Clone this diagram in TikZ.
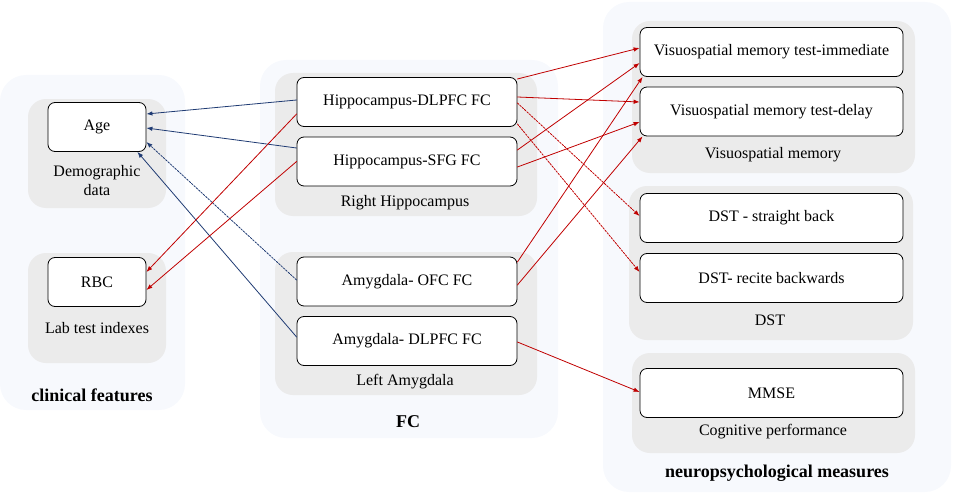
\documentclass[tikz,border=0pt]{standalone}
\usepackage{fontspec}
\setmainfont{Liberation Serif}
\usetikzlibrary{arrows.meta}

\definecolor{outerfill}{HTML}{F7F9FD}
\definecolor{groupfill}{HTML}{EBEBEB}
\definecolor{linkred}{HTML}{C00000}
\definecolor{linkblue}{HTML}{1F3B73}

\begin{document}
\begin{tikzpicture}[x=1pt, y=-1pt, line cap=round, line join=round,
  every node/.style={font=\fontsize{16}{19}\selectfont},
  measurebox/.style={draw, line width=0.8pt, rounded corners=7pt, fill=white,
    minimum height=49pt, inner sep=0pt},
  panel/.style={fill=outerfill, rounded corners=26pt},
  group/.style={fill=groupfill, rounded corners=18pt},
  title/.style={font=\fontsize{18}{21}\selectfont\bfseries},
  redlink/.style={draw=linkred, line width=0.8pt, -{Latex[length=6pt,width=4.5pt]}},
  bluelink/.style={draw=linkblue, line width=0.8pt, -{Latex[length=6pt,width=4.5pt]}},
  dotlink/.style={dash pattern=on 2pt off 1.2pt}]

\useasboundingbox (0,0) rectangle (953,495);

% --- Panels ---
\fill[panel] (0,75) rectangle (185,410);
\fill[panel] (260,60) rectangle (558,438);
\fill[panel] (603,2) rectangle (951,492);

% --- Groups ---
\fill[group] (28,99) rectangle (166,208);
\fill[group] (28,253) rectangle (166,363);
\fill[group] (275,73) rectangle (537,216);
\fill[group] (275,252) rectangle (537,395);
\fill[group] (632,21) rectangle (915,173);
\fill[group] (629,186) rectangle (913,340);
\fill[group] (632,353) rectangle (915,453);

% --- Boxes ---
\node[measurebox, minimum width=98pt] (age) at (97,127) {Age};
\node[measurebox, minimum width=98pt] (rbc) at (97,282) {RBC};

\node[measurebox, minimum width=220pt] (hdl) at (407,102) {Hippocampus-DLPFC FC};
\node[measurebox, minimum width=220pt] (hsfg) at (407,161.5) {Hippocampus-SFG FC};
\node[measurebox, minimum width=220pt] (aofc) at (407,281.5) {Amygdala- OFC FC};
\node[measurebox, minimum width=220pt] (adl) at (407,341) {Amygdala- DLPFC FC};

\node[measurebox, minimum width=263pt] (vimm) at (771.5,52) {Visuospatial memory test-immediate};
\node[measurebox, minimum width=263pt] (vdel) at (771.5,111.5) {Visuospatial memory test-delay};
\node[measurebox, minimum width=263pt] (dsb) at (771.5,218) {DST - straight back};
\node[measurebox, minimum width=263pt] (drb) at (771.5,278) {DST- recite backwards};
\node[measurebox, minimum width=263pt] (mmse) at (771.5,393) {MMSE};

% --- Labels ---
\node[align=center] (demo) at (97,181) {Demographic\\data};
\node (lab) at (97,328) {Lab test indexes};
\node[title] (clin) at (92,395) {clinical features};

\node (rhip) at (405,203) {Right Hippocampus};
\node (lamy) at (405,382) {Left Amygdala};
\node[title] (fc) at (408,422) {FC};

\node (vsm) at (773,155) {Visuospatial memory};
\node (dst) at (770,320) {DST};
\node (cog) at (773,432) {Cognitive performance};
\node[title] (neuro) at (777,473) {neuropsychological measures};

% --- Links to clinical features ---
\draw[bluelink] ([yshift=2pt]hdl.west) -- ([yshift=13pt]age.east);
\draw[bluelink] ([yshift=13.5pt]hsfg.west) -- ([yshift=-1pt]age.east);
\draw[bluelink, dotlink] ([yshift=1.5pt]aofc.west) -- ([yshift=-15pt]age.east);
\draw[bluelink] ([yshift=4pt]adl.west) -- ([xshift=-9pt]age.south east);
\draw[redlink] ([yshift=-12pt]hdl.west) -- ([yshift=10pt]rbc.east);
\draw[redlink] (hsfg.west) -- ([yshift=-8pt]rbc.east);

% --- Links to neuropsychological measures ---
\draw[redlink] ([yshift=23pt]hdl.east) -- ([yshift=4pt]vimm.west);
\draw[redlink] ([yshift=5pt]hdl.east) -- ([yshift=9.5pt]vdel.west);
\draw[redlink] ([yshift=11.5pt]hsfg.east) -- ([yshift=-11pt]vimm.west);
\draw[redlink] ([yshift=-5.5pt]hsfg.east) -- ([yshift=-10.5pt]vdel.west);
\draw[redlink] ([yshift=19.5pt]aofc.east) -- ([xshift=3pt]vimm.south west);
\draw[redlink] ([yshift=-3.5pt]aofc.east) -- ([xshift=3pt]vdel.south west);
\draw[redlink, dotlink] ([yshift=-1pt]hdl.east) -- ([yshift=2pt]dsb.west);
\draw[redlink, dotlink] ([yshift=-22pt]hdl.east) -- ([yshift=6pt]drb.west);
\draw[redlink] ([yshift=-1pt]adl.east) -- ([yshift=1pt]mmse.west);

\end{tikzpicture}
\end{document}
